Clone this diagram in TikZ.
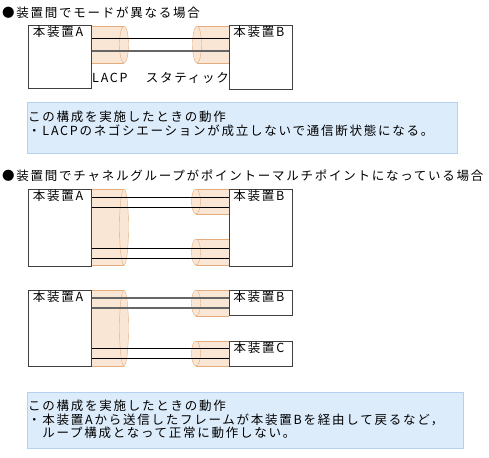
\documentclass[tikz,border=0pt]{standalone}
\usepackage{fontspec}
\setmainfont[LetterSpace=14]{Noto Sans CJK JP}
\usetikzlibrary{positioning,calc}

\definecolor{chanfill}{RGB}{249,230,212}
\definecolor{chanline}{RGB}{228,172,125}
\definecolor{notefill}{RGB}{221,236,251}
\definecolor{noteline}{RGB}{180,210,240}

% channel group: body from x #1 to the visible face at x #2, from y #3 to y #4
\newcommand{\chanface}[4]{%
	\fill[chanfill] (#1,#3) rectangle (#2,#4);
	\draw[chanline] (#1,#3) -- (#2,#3) (#1,#4) -- (#2,#4);
	\filldraw[fill=chanfill,draw=chanline]
	(#2,{(#3+#4)/2}) ellipse [x radius=4.5pt, y radius={(#4-#3)/2*1pt}];
}

\begin{document}
\begin{tikzpicture}[
		x=1pt,y=-1pt,
		font=\fontsize{12.5}{13.5}\selectfont,
		devbox/.style={
			draw=black!75,
			line width=0.9pt,
			fill=white,
			anchor=north west,
			minimum width=63pt,
			inner sep=0pt,
			label={[anchor=north,inner sep=0pt,yshift=-1pt,xshift=-2pt]north:#1}
		},
		note/.style={
			draw=noteline,
			fill=notefill,
			anchor=north west,
			inner sep=0pt
		},
		txt/.style={
			inner sep=0pt,
			align=left
		},
		thin link/.style={draw=black,line width=0.8pt},
		thick link/.style={draw=black!60,line width=1.3pt}
		]
		
		\useasboundingbox (0,0) rectangle (489,457);
		
		% mode mismatch
		\node[txt,anchor=west] (t1) at (2,13) {●装置間でモードが異なる場合};
		
		\chanface{91}{124}{26}{63}
		\chanface{229}{197}{26}{63}
		
		\node[devbox=本装置A,minimum height=63pt] (a1) at (28,25) {};
		\node[devbox=本装置B,minimum height=64pt] (b1) at (229,25) {};
		
		\draw[thin link] ([yshift=-13pt]a1.north east) -- ([yshift=-13pt]b1.north west);
		\draw[thick link] ([yshift=-26pt]a1.north east) -- ([yshift=-26pt]b1.north west);
		
		\node[txt,anchor=west] (lacp) at (92,78) {LACP};
		\node[txt,anchor=east] (stat) at (229,78) {スタティック};
		
		\node[note,minimum width=430pt,minimum height=51pt] (n1) at (27,102) {};
		\node[txt,anchor=north west] (n1t) at (28,111)
		{この構成を実施したときの動作\\・LACPのネゴシエーションが成立しないで通信断状態になる。};
		
		% point to multipoint
		\node[txt,anchor=west] (t2) at (2,176)
		{●装置間でチャネルグループがポイントーマルチポイントになっている場合};
		
		\chanface{91}{124}{189}{265}
		\chanface{229}{196}{189}{214}
		\chanface{229}{196}{239}{265}
		
		\node[devbox=本装置A,minimum height=77pt] (a2) at (28,189) {};
		\node[devbox=本装置B,minimum height=77pt] (b2) at (229,189) {};
		
		\draw[thin link] ([yshift=-8pt]a2.north east) -- ([yshift=-8pt]b2.north west);
		\draw[thin link] ([yshift=-18pt]a2.north east) -- ([yshift=-18pt]b2.north west);
		\draw[thin link] ([yshift=-59pt]a2.north east) -- ([yshift=-59pt]b2.north west);
		\draw[thin link] ([yshift=-69pt]a2.north east) -- ([yshift=-69pt]b2.north west);
		
		\chanface{91}{124}{290}{366}
		\chanface{229}{196}{290}{316}
		\chanface{229}{196}{341}{366}
		
		\node[devbox=本装置A,minimum height=76pt] (a3) at (28,290) {};
		\node[devbox=本装置B,minimum height=25pt] (b3) at (229,290) {};
		\node[devbox=本装置C,minimum height=25pt] (c3) at (229,341) {};
		
		\coordinate (c3top) at ([yshift=-7pt]c3.north west);
		\coordinate (c3bot) at ([yshift=-17pt]c3.north west);
		
		\draw[thick link] ([yshift=-8pt]a3.north east) -- ([yshift=-8pt]b3.north west);
		\draw[thick link] ([yshift=-18pt]a3.north east) -- ([yshift=-18pt]b3.north west);
		\draw[thin link] (c3top -| a3.east) -- (c3top);
		\draw[thin link] (c3bot -| a3.east) -- (c3bot);
		
		\node[note,minimum width=436pt,minimum height=56pt] (n2) at (27,392) {};
		\node[txt,anchor=north west] (n2t) at (28,400)
		{この構成を実施したときの動作\\・本装置Aから送信したフレームが本装置Bを経由して戻るなど，\\　ループ構成となって正常に動作しない。};
		
	\end{tikzpicture}
\end{document}
